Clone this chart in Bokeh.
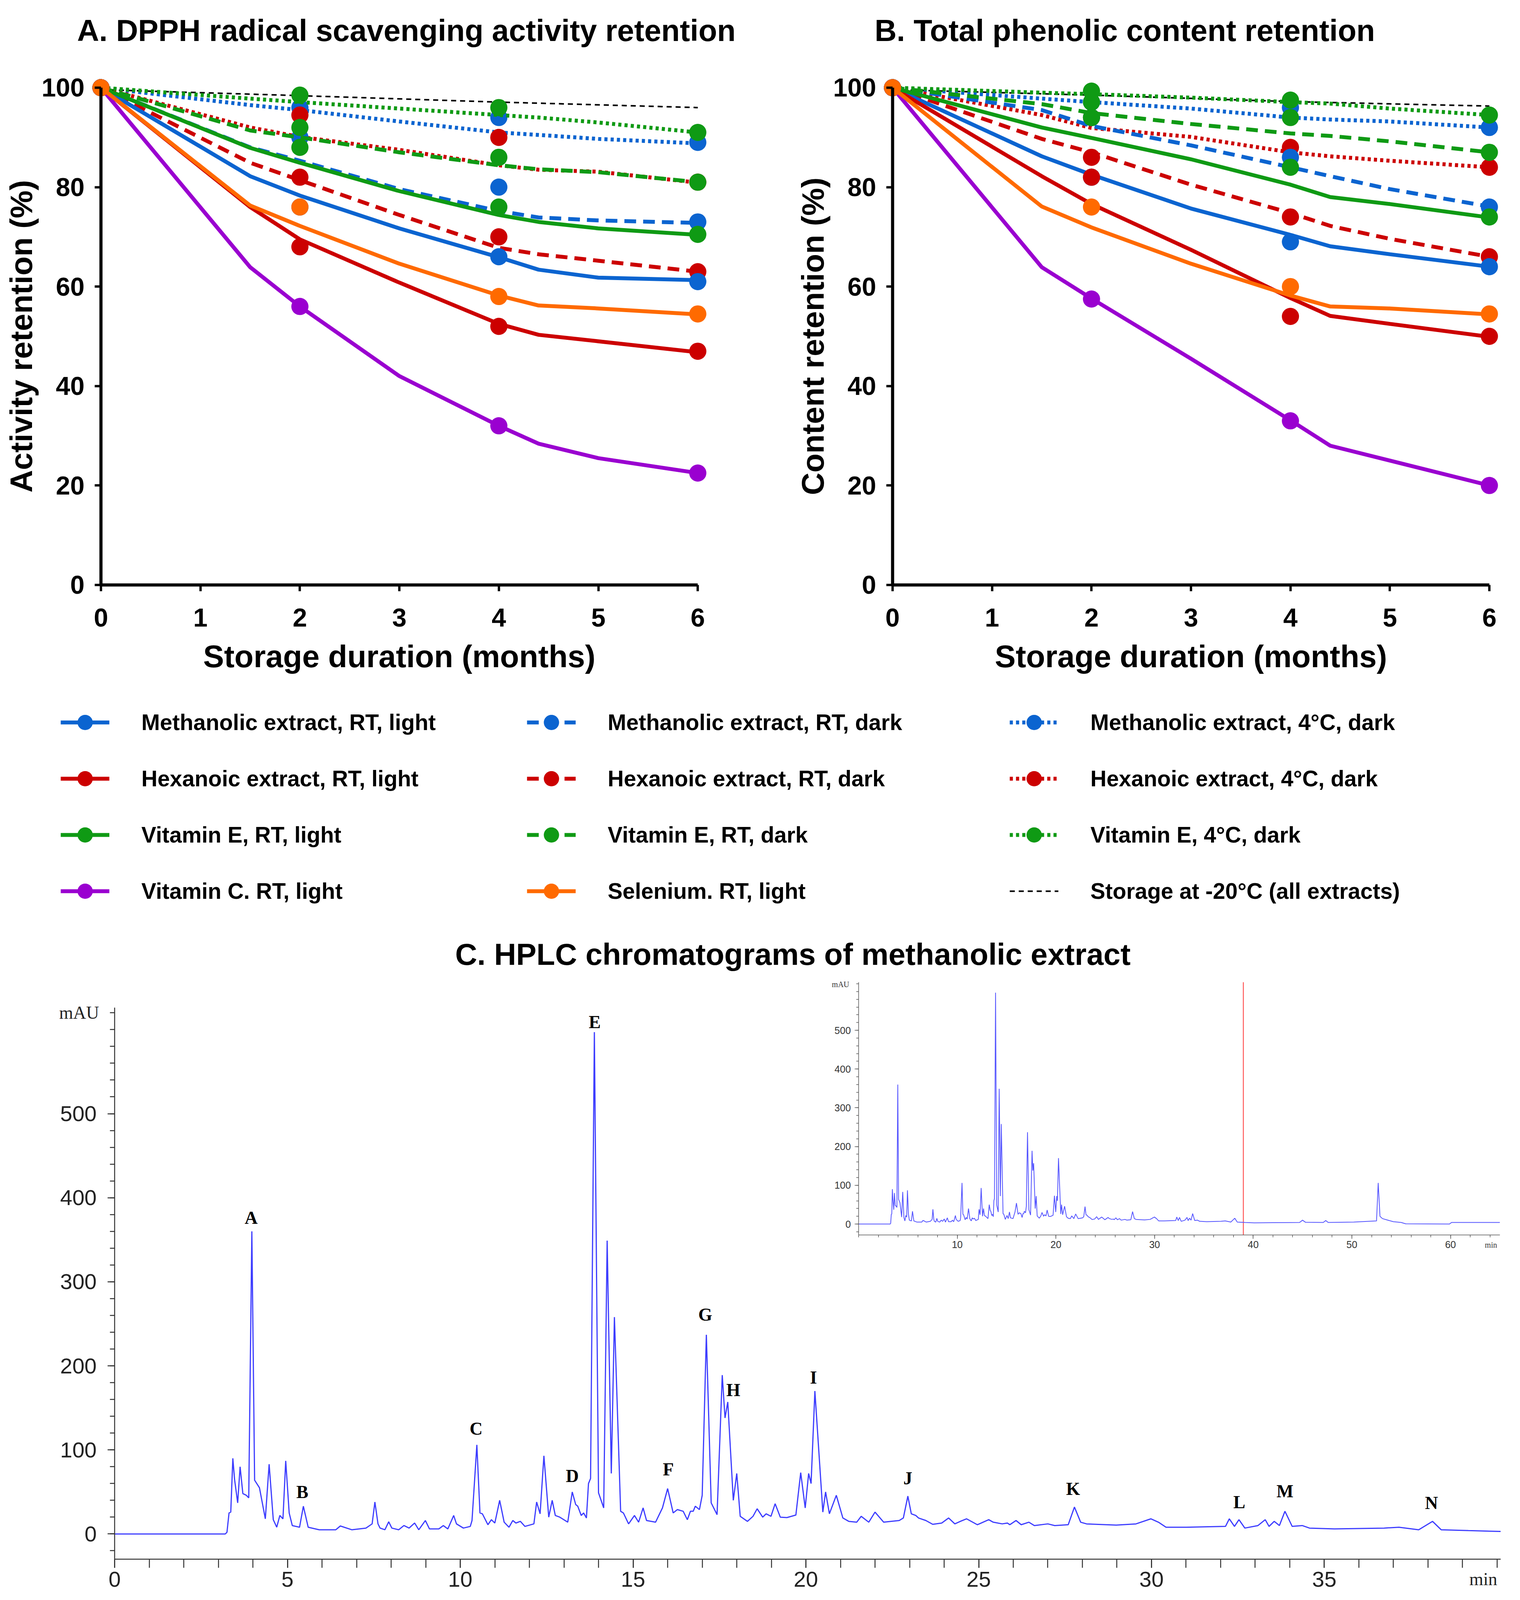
from bokeh.plotting import figure
from bokeh.models import Range1d, LinearAxis, FixedTicker, Legend, LegendItem, Label
from bokeh.layouts import column, row
from bokeh.embed import file_html
from bokeh.resources import INLINE
from bokeh.core.properties import value

SANS = "Liberation Sans"
SERIF = "Liberation Serif"

# ------------------------------------------------------------------ data
months_obs = [0, 2, 4, 6]
months_fit = [0, 1.5, 2, 3, 4, 4.4, 5, 6]
months_frozen = [0, 2, 4, 6]

# Panel A: DPPH radical scavenging activity retention (%)
a_meth_light_obs = [100, 76, 66, 61]
a_meth_light_fit = [100, 82.2, 78.3, 71.7, 65.9, 63.4, 61.8, 61.3]
a_meth_dark_obs = [100, 90, 80, 73]
a_meth_dark_fit = [100, 88, 85.3, 79.6, 75.2, 73.9, 73.3, 72.8]
a_meth_cold_obs = [100, 96, 94, 89]
a_meth_cold_fit = [100, 96.5, 95.5, 93.2, 91, 90.5, 89.7, 88.8]
a_hex_light_obs = [100, 68, 52, 47]
a_hex_light_fit = [100, 76, 69.5, 60.8, 52.5, 50.3, 49, 46.8]
a_hex_dark_obs = [100, 82, 70, 63]
a_hex_dark_fit = [100, 84.9, 81.4, 74.4, 67.8, 66.5, 65.2, 63]
a_hex_cold_obs = [100, 94.5, 90, 81]
a_hex_cold_fit = [100, 92, 90.1, 87.5, 84.4, 83.5, 83.1, 80.9]
a_vite_light_obs = [100, 88, 76, 70.5]
a_vite_light_fit = [100, 87.9, 84.9, 79.2, 74.4, 73, 71.7, 70.4]
a_vite_dark_obs = [100, 92, 86, 81]
a_vite_dark_fit = [100, 91.4, 90, 87, 84.4, 83.6, 83, 81]
a_vite_cold_obs = [100, 98.5, 96, 91]
a_vite_cold_fit = [100, 97.8, 97.1, 95.8, 94.5, 94, 93, 91]
a_vitc_light_obs = [100, 56, 32, 22.5]
a_vitc_light_fit = [100, 63.9, 56, 42, 32, 28.4, 25.5, 22.5]
a_sel_light_obs = [100, 76, 58, 54.5]
a_sel_light_fit = [100, 76.3, 72.2, 64.6, 58.2, 56.2, 55.6, 54.4]
a_frozen = [99.6, 98.4, 97.1, 96]

# Panel B: total phenolic content retention (%)
b_meth_light_obs = [100, 82, 69, 64]
b_meth_light_fit = [100, 86.2, 82.5, 75.7, 70.4, 68.1, 66.5, 64]
b_meth_dark_obs = [100, 94, 86, 76]
b_meth_dark_fit = [100, 95.5, 92.3, 88.4, 84, 82.2, 79.6, 76.1]
b_meth_cold_obs = [100, 97.1, 96, 92]
b_meth_cold_fit = [100, 97.8, 97.1, 95.8, 94, 93.6, 93.2, 92]
b_hex_light_obs = [100, 82, 54, 50]
b_hex_light_fit = [100, 82.2, 76.6, 67.4, 57.7, 54.1, 52.5, 49.9]
b_hex_dark_obs = [100, 86, 74, 66]
b_hex_dark_fit = [100, 89.7, 87, 80.5, 74.8, 72.2, 69.6, 66]
b_hex_cold_obs = [100, 94, 88, 84]
b_hex_cold_fit = [100, 94.5, 91.9, 90.1, 87, 86.2, 85.3, 84]
b_vite_light_obs = [100, 94, 84, 74]
b_vite_light_fit = [100, 92, 89.9, 85.6, 80.5, 78, 76.6, 73.9]
b_vite_dark_obs = [100, 97.1, 94, 87]
b_vite_dark_fit = [100, 96.7, 94.9, 92.7, 90.8, 90.3, 89.2, 87]
b_vite_cold_obs = [100, 99.3, 97.5, 94.5]
b_vite_cold_fit = [100, 99, 98.7, 98, 97.1, 96.8, 95.8, 94.5]
b_vitc_light_obs = [100, 57.5, 33, 20]
b_vitc_light_fit = [100, 63.9, 57.6, 45.5, 33.1, 28, 25, 20]
b_sel_light_obs = [100, 76, 60, 54.5]
b_sel_light_fit = [100, 76.1, 71.9, 64.6, 58.2, 56, 55.6, 54.4]
b_frozen = [99.6, 98.5, 97.2, 96.3]

retention_ticks_x = [0, 1, 2, 3, 4, 5, 6]
retention_ticks_y = [0, 20, 40, 60, 80, 100]

# Panel C: HPLC chromatogram of the methanolic extract (retention time min, mAU)
hplc_time = [
    0.0, 3.2, 3.25, 3.31, 3.36, 3.42, 3.47, 3.56, 3.63, 3.71,
    3.81, 3.88, 3.97, 4.05, 4.19, 4.36, 4.47, 4.59, 4.69, 4.78,
    4.87, 4.95, 5.05, 5.14, 5.35, 5.46, 5.6, 5.92, 6.4, 6.53,
    6.86, 7.27, 7.45, 7.53, 7.62, 7.68, 7.82, 7.93, 8.02, 8.22,
    8.37, 8.52, 8.68, 8.8, 8.99, 9.11, 9.38, 9.51, 9.64, 9.81,
    9.89, 10.09, 10.29, 10.34, 10.48, 10.57, 10.64, 10.8, 10.9, 11.0,
    11.14, 11.27, 11.41, 11.52, 11.61, 11.74, 11.87, 12.13, 12.21, 12.31,
    12.42, 12.56, 12.66, 12.75, 12.88, 13.11, 13.24, 13.34, 13.4, 13.5,
    13.57, 13.65, 13.71, 13.77, 13.88, 14.0, 14.15, 14.25, 14.37, 14.46,
    14.64, 14.72, 14.87, 15.04, 15.16, 15.29, 15.39, 15.65, 15.85, 16.0,
    16.16, 16.28, 16.45, 16.57, 16.66, 16.74, 16.8, 16.92, 17.0, 17.12,
    17.26, 17.43, 17.58, 17.66, 17.74, 17.9, 18.0, 18.1, 18.31, 18.47,
    18.59, 18.75, 18.85, 18.99, 19.11, 19.26, 19.45, 19.71, 19.85, 19.98,
    20.08, 20.15, 20.26, 20.49, 20.57, 20.68, 20.88, 21.07, 21.24, 21.47,
    21.6, 21.82, 22.0, 22.25, 22.7, 22.82, 22.95, 23.05, 23.18, 23.26,
    23.47, 23.67, 23.93, 24.13, 24.31, 24.47, 24.65, 24.96, 25.29, 25.42,
    25.68, 25.83, 25.9, 26.08, 26.23, 26.45, 26.61, 27.0, 27.2, 27.59,
    27.77, 27.95, 28.12, 28.98, 29.55, 29.98, 30.2, 30.42, 31.0, 32.14,
    32.25, 32.4, 32.53, 32.7, 33.08, 33.29, 33.4, 33.55, 33.7, 33.86,
    34.07, 34.36, 34.57, 35.29, 36.73, 37.16, 37.73, 38.13, 38.38, 39.17,
    40.1,
]
hplc_mAU = [
    0, 0, 2, 25, 26, 90, 65, 37, 80, 48,
    46, 43, 360, 64, 55, 18, 83, 17, 8, 22,
    18, 87, 25, 10, 8, 33, 8, 5, 5, 9.5,
    5, 7, 12, 38, 12, 7, 5, 14.5, 7, 5,
    10, 7, 13, 5, 16, 6, 6, 10, 6, 22,
    12, 7, 9, 16, 106, 25, 24, 11, 17, 13,
    40, 14, 8, 16, 13, 15, 9, 12, 38, 24,
    93, 20, 40, 22, 20, 14, 50, 35, 33, 22,
    25, 19, 60, 66, 597, 49, 31, 349, 72, 258,
    27, 25, 12, 22, 14, 31, 16, 14, 31, 54,
    25, 29, 27, 17, 27, 27, 33, 29, 46, 237,
    37, 23, 189, 138, 157, 40, 72, 21, 15, 21,
    30, 20, 24, 21, 36, 20, 19.5, 22.5, 73, 31,
    72, 60, 170, 26, 50, 24, 46, 19, 15, 14,
    21, 14, 26, 14, 16, 19, 45, 24, 22, 19,
    16, 11.5, 13, 19, 12, 15, 18, 11, 17, 14,
    12, 13, 11, 16, 11, 14, 10, 12, 10, 11,
    32, 14, 12, 10.5, 12, 18, 14, 8, 8, 9,
    18, 9, 17, 7, 10, 17, 9, 15, 10, 27,
    9, 10, 7, 6, 7, 8, 5, 15, 5, 4,
    3,
]
# rest of the full run, shown only in the inset
hplc_ext_time = [42.0, 44.7, 45.0, 45.3, 47.1, 47.35, 47.6, 50.2, 52.5, 52.67,
                 52.85, 53.1, 54.2, 55.0, 55.46, 59.9, 60.1, 65.0]
hplc_ext_mAU = [3.5, 4, 10, 4.5, 4, 9, 4, 5, 8, 106,
                20, 14, 6, 4, 0.5, 0, 4, 4]
inset_cursor_time = [39.0]

peak_names = ["A", "B", "C", "D", "E", "F", "G", "H", "I", "J", "K", "L", "M", "N"]
peak_label_time = [3.95, 5.43, 10.46, 13.24, 13.89, 16.02, 17.09, 17.9, 20.22, 22.95,
                   27.73, 32.54, 33.86, 38.1]
peak_label_mAU = [376, 50, 125, 69, 609, 77, 261, 171, 186, 66, 53.5, 38, 51, 37]

hplc_major_x = [0, 5, 10, 15, 20, 25, 30, 35]
hplc_minor_x = list(range(0, 41))
hplc_major_y = [0, 100, 200, 300, 400, 500]
hplc_minor_y = list(range(-20, 621, 20))
inset_major_x = [10, 20, 30, 40, 50, 60]
inset_minor_x = list(range(0, 65, 2))

# ------------------------------------------------------------------ styles
BLUE = "#0b64d0"
RED = "#cc0000"
GREEN = "#0f9a14"
PURPLE = "#9a00d0"
ORANGE = "#ff6a00"
DASH = "30 18"
DOT = "8 8"

series_style = {
    "meth_light": (BLUE, "solid"), "meth_dark": (BLUE, DASH), "meth_cold": (BLUE, DOT),
    "hex_light": (RED, "solid"), "hex_dark": (RED, DASH), "hex_cold": (RED, DOT),
    "vite_light": (GREEN, "solid"), "vite_dark": (GREEN, DASH), "vite_cold": (GREEN, DOT),
    "vitc_light": (PURPLE, "solid"), "sel_light": (ORANGE, "solid"),
}
series_label = {
    "meth_light": "Methanolic extract, RT, light",
    "meth_dark": "Methanolic extract, RT, dark",
    "meth_cold": "Methanolic extract, 4°C, dark",
    "hex_light": "Hexanoic extract, RT, light",
    "hex_dark": "Hexanoic extract, RT, dark",
    "hex_cold": "Hexanoic extract, 4°C, dark",
    "vite_light": "Vitamin E, RT, light",
    "vite_dark": "Vitamin E, RT, dark",
    "vite_cold": "Vitamin E, 4°C, dark",
    "vitc_light": "Vitamin C. RT, light",
    "sel_light": "Selenium. RT, light",
}
frozen_label = "Storage at -20°C (all extracts)"
draw_order = ["meth_cold", "hex_cold", "vite_cold", "meth_dark", "hex_dark", "vite_dark",
              "meth_light", "hex_light", "vite_light", "vitc_light", "sel_light"]

panel_a = {
    "meth_light": (a_meth_light_obs, a_meth_light_fit), "meth_dark": (a_meth_dark_obs, a_meth_dark_fit),
    "meth_cold": (a_meth_cold_obs, a_meth_cold_fit), "hex_light": (a_hex_light_obs, a_hex_light_fit),
    "hex_dark": (a_hex_dark_obs, a_hex_dark_fit), "hex_cold": (a_hex_cold_obs, a_hex_cold_fit),
    "vite_light": (a_vite_light_obs, a_vite_light_fit), "vite_dark": (a_vite_dark_obs, a_vite_dark_fit),
    "vite_cold": (a_vite_cold_obs, a_vite_cold_fit), "vitc_light": (a_vitc_light_obs, a_vitc_light_fit),
    "sel_light": (a_sel_light_obs, a_sel_light_fit),
}
panel_b = {
    "meth_light": (b_meth_light_obs, b_meth_light_fit), "meth_dark": (b_meth_dark_obs, b_meth_dark_fit),
    "meth_cold": (b_meth_cold_obs, b_meth_cold_fit), "hex_light": (b_hex_light_obs, b_hex_light_fit),
    "hex_dark": (b_hex_dark_obs, b_hex_dark_fit), "hex_cold": (b_hex_cold_obs, b_hex_cold_fit),
    "vite_light": (b_vite_light_obs, b_vite_light_fit), "vite_dark": (b_vite_dark_obs, b_vite_dark_fit),
    "vite_cold": (b_vite_cold_obs, b_vite_cold_fit), "vitc_light": (b_vitc_light_obs, b_vitc_light_fit),
    "sel_light": (b_sel_light_obs, b_sel_light_fit),
}

LINE_W = 10
MARKER = 44


def style_axis(ax, label, tick_standoff, label_standoff):
    ax.axis_label = label
    ax.axis_label_text_font = SANS
    ax.axis_label_text_font_style = "bold"
    ax.axis_label_text_font_size = "80px"
    ax.axis_label_text_color = "black"
    ax.axis_label_standoff = label_standoff
    ax.major_label_text_font = SANS
    ax.major_label_text_font_style = "bold"
    ax.major_label_text_font_size = "66px"
    ax.major_label_text_color = "black"
    ax.major_label_standoff = tick_standoff
    ax.axis_line_width = 8
    ax.axis_line_color = "black"
    ax.major_tick_line_width = 6
    ax.major_tick_line_color = "black"
    ax.major_tick_out = 16
    ax.major_tick_in = 0
    ax.minor_tick_out = 0
    ax.minor_tick_in = 0


def retention_panel(title_text, title_offset, ylabel, data, frozen, x_lo, x_hi):
    # the frame fills the whole figure below the title; axes sit at fixed data locations
    p = figure(width=1938, height=1742, x_range=Range1d(x_lo, x_hi),
               y_range=Range1d(-19.25, 105.81),
               x_axis_location=None, y_axis_location=None, toolbar_location=None,
               output_backend="svg", min_border_left=0, min_border_right=0,
               min_border_top=150, min_border_bottom=0, outline_line_color=None,
               title=title_text)
    p.grid.visible = False
    p.title.text_font = SANS
    p.title.text_font_style = "bold"
    p.title.text_font_size = "78px"
    p.title.text_color = "black"
    p.title.align = "left"
    p.title.offset = title_offset
    p.title.standoff = 58

    xa = LinearAxis(fixed_location=0, bounds=(0, 6),
                    ticker=FixedTicker(ticks=retention_ticks_x, minor_ticks=[]))
    style_axis(xa, "Storage duration (months)", 45, 28)
    p.add_layout(xa, "below")
    ya = LinearAxis(fixed_location=0, bounds=(0, 100),
                    ticker=FixedTicker(ticks=retention_ticks_y, minor_ticks=[]))
    style_axis(ya, ylabel, 26, 4)
    p.add_layout(ya, "left")

    p.line(months_frozen, frozen, line_color="black", line_width=4, line_dash="13 10")
    for key in draw_order:
        color, dash = series_style[key]
        obs, fit = data[key]
        p.line(months_fit, fit, line_color=color, line_width=LINE_W, line_dash=dash)
        p.scatter(months_obs, obs, size=MARKER, fill_color=color, line_color=None)
    return p


pA = retention_panel("A. DPPH radical scavenging activity retention", 197,
                     "Activity retention (%)", panel_a, a_frozen, -1.013, 6.596)
pB = retention_panel("B. Total phenolic content retention", 301,
                     "Content retention (%)", panel_b, b_frozen, -1.362, 6.247)

# ------------------------------------------------------------------ legend strip
# legend-only figure: its renderers hold panel A's series but lie outside the visible ranges
pL = figure(width=3876, height=630, x_range=Range1d(100, 101), y_range=Range1d(500, 501),
            x_axis_location=None, y_axis_location=None, toolbar_location=None,
            output_backend="svg", outline_line_color=None, min_border=0)
pL.grid.visible = False

legend_cols = [
    ["meth_light", "hex_light", "vite_light", "vitc_light"],
    ["meth_dark", "hex_dark", "vite_dark", "sel_light"],
    ["meth_cold", "hex_cold", "vite_cold", "frozen"],
]
legend_x = [155, 1349, 2585]
for keys, lx in zip(legend_cols, legend_x):
    items = []
    for key in keys:
        if key == "frozen":
            r = pL.line(months_frozen, a_frozen, line_color="black", line_width=4,
                        line_dash="13 10")
            items.append(LegendItem(label=frozen_label, renderers=[r]))
        else:
            color, dash = series_style[key]
            obs, fit = panel_a[key]
            r1 = pL.line(months_fit, fit, line_color=color, line_width=LINE_W, line_dash=dash)
            r2 = pL.scatter(months_obs, obs, size=MARKER, fill_color=color, line_color=None)
            items.append(LegendItem(label=series_label[key], renderers=[r1, r2]))
    leg = Legend(items=items, location=(lx, 42), orientation="vertical",
                 glyph_width=125, glyph_height=98, label_standoff=82, spacing=46,
                 padding=0, margin=0, border_line_color=None, background_fill_alpha=0,
                 label_text_font=SANS, label_text_font_style="bold",
                 label_text_font_size="57px", label_text_color="black")
    pL.add_layout(leg)

# ------------------------------------------------------------------ chromatogram
pC = figure(width=3876, height=1720, x_range=Range1d(-3.311, 40.486),
            y_range=Range1d(-76.93, 666.6),
            x_axis_location=None, y_axis_location=None,
            toolbar_location=None, output_backend="svg", min_border_left=0,
            min_border_right=0, min_border_top=120, min_border_bottom=0,
            outline_line_color=None, title="C. HPLC chromatograms of methanolic extract")
pC.grid.visible = False
pC.title.text_font = SANS
pC.title.text_font_style = "bold"
pC.title.text_font_size = "78px"
pC.title.text_color = "black"
pC.title.align = "left"
pC.title.offset = 1165
pC.title.standoff = 12

AX = "#333333"
xax = LinearAxis(fixed_location=-30, bounds=(0, 40.1),
                 ticker=FixedTicker(ticks=hplc_major_x, minor_ticks=hplc_minor_x))
yax = LinearAxis(fixed_location=0, bounds=(-30, 626),
                 ticker=FixedTicker(ticks=hplc_major_y, minor_ticks=hplc_minor_y))
for ax in (xax, yax):
    ax.axis_line_color = AX
    ax.axis_line_width = 2.5
    ax.major_tick_line_color = AX
    ax.minor_tick_line_color = AX
    ax.major_tick_line_width = 2.5
    ax.minor_tick_line_width = 2.5
    ax.major_tick_in = 0
    ax.minor_tick_in = 0
    ax.major_label_text_font = SANS
    ax.major_label_text_font_size = "56px"
    ax.major_label_text_color = "#222222"
xax.major_tick_out = 22
xax.minor_tick_out = 22
xax.major_label_standoff = 10
yax.major_tick_out = 18
yax.minor_tick_out = 12
yax.major_label_standoff = 28
pC.add_layout(xax, "below")
pC.add_layout(yax, "left")

pC.line(hplc_time, hplc_mAU, line_color="#3c3cff", line_width=3)
pC.text(x=peak_label_time, y=peak_label_mAU, text=peak_names, text_font=value(SERIF),
        text_font_style="bold", text_font_size="46px", text_color="black",
        text_align="center", text_baseline="middle")
pC.add_layout(Label(x=-0.45, y=620, text="mAU", text_align="right", text_baseline="middle",
                    text_font=SERIF, text_font_size="46px", text_color="#222222"))
pC.add_layout(Label(x=39.6, y=-53.7, text="min", text_align="center", text_baseline="middle",
                    text_font=SERIF, text_font_size="46px", text_color="#222222"))

# inset: whole run, 0-65 min
pC.extra_x_ranges = {"ix": Range1d(-87.02, 66.43)}
pC.extra_y_ranges = {"iy": Range1d(-966.7, 646.2)}
pC.segment(x0=inset_cursor_time, y0=[-28], x1=inset_cursor_time, y1=[624],
           x_range_name="ix", y_range_name="iy", line_color="#ff5c5c", line_width=2.5)
pC.line(hplc_time + hplc_ext_time, hplc_mAU + hplc_ext_mAU, x_range_name="ix",
        y_range_name="iy", line_color="#5555ff", line_width=2)

IAX = "#555555"
ixa = LinearAxis(x_range_name="ix", y_range_name="iy", fixed_location=-28, bounds=(0, 65),
                 ticker=FixedTicker(ticks=inset_major_x, minor_ticks=inset_minor_x))
iya = LinearAxis(x_range_name="ix", y_range_name="iy", fixed_location=0, bounds=(-28, 624),
                 ticker=FixedTicker(ticks=hplc_major_y, minor_ticks=hplc_minor_y))
for ax in (ixa, iya):
    ax.axis_line_color = IAX
    ax.axis_line_width = 1.5
    ax.major_tick_line_color = IAX
    ax.minor_tick_line_color = IAX
    ax.major_tick_line_width = 1.5
    ax.minor_tick_line_width = 1.5
    ax.major_tick_in = 0
    ax.minor_tick_in = 0
    ax.major_tick_out = 10
    ax.minor_tick_out = 6
    ax.major_label_text_font = SANS
    ax.major_label_text_font_size = "25px"
    ax.major_label_text_color = "#333333"
ixa.major_label_standoff = 6
iya.major_label_standoff = 10
pC.add_layout(ixa, "below")
pC.add_layout(iya, "left")
pC.add_layout(Label(x=-0.95, y=618, x_range_name="ix", y_range_name="iy", text="mAU",
                    text_align="right", text_baseline="middle", text_font=SERIF,
                    text_font_size="20px", text_color="#333333"))
pC.add_layout(Label(x=64.1, y=-54, x_range_name="ix", y_range_name="iy", text="min",
                    text_align="center", text_baseline="middle", text_font=SERIF,
                    text_font_size="20px", text_color="#333333"))

layout = column(row(pA, pB), pL, pC)
open("out.html", "w").write(file_html(layout, INLINE))
